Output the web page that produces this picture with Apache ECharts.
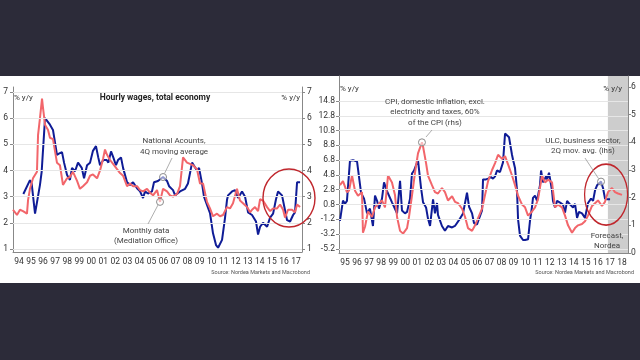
<!DOCTYPE html>
<html><head><meta charset="utf-8">
<script src="https://cdn.jsdelivr.net/npm/echarts@6/dist/echarts.min.js"></script>
<style>
html,body{margin:0;padding:0;background:#2c2b39;overflow:hidden;}
#bg{position:absolute;left:0;top:76px;width:640px;height:207px;background:#fff;}
#c{position:absolute;left:0;top:0;width:640px;height:360px;}
</style></head><body>
<div id="bg"></div><div id="c"></div>
<script>
// ---------- data ----------
const leftYearLabels = ['94','95','96','97','98','99','00','01','02','03','04','05','06','07','08','09','10','11','12','13','14','15','16','17'];
const rightYearLabels = ['95','96','97','98','99','00','01','02','03','04','05','06','07','08','09','10','11','12','13','14','15','16','17','18'];
const wageTicks = [1,2,3,4,5,6,7];
const ulcTicks = [-5.2,-3.2,-1.2,0.8,2.8,4.8,6.8,8.8,10.8,12.8,14.8];
const cpiTicks = [0,1,2,3,4,5,6];

// Hourly wages, National Accounts, 4Q moving average [year, % y/y]
const wagesNationalAccounts = [
[1994.86,3.1],[1995.41,3.63],[1995.55,3.5],[1995.83,2.35],[1996.24,3.45],[1996.38,3.95],[1996.66,6.0],[1996.80,5.95],[1997.07,5.75],[1997.32,5.55],[1997.65,4.6],[1997.85,4.65],[1998.07,4.7],[1998.24,4.3],[1998.49,3.83],[1998.73,3.64],[1998.90,4.1],[1999.15,3.97],[1999.40,4.3],[1999.71,4.1],[1999.90,3.7],[2000.15,4.2],[2000.40,4.3],[2000.64,4.75],[2000.89,4.93],[2001.08,4.5],[2001.23,4.2],[2001.50,4.4],[2001.78,4.4],[2001.92,4.3],[2002.14,4.73],[2002.33,4.5],[2002.55,4.2],[2002.72,4.4],[2002.97,4.5],[2003.14,4.1],[2003.47,3.55],[2003.72,3.45],[2003.97,3.55],[2004.30,3.32],[2004.55,3.2],[2004.80,2.95],[2004.96,3.2],[2005.21,3.12],[2005.54,3.2],[2005.71,3.55],[2006.04,3.6],[2006.46,3.75],[2006.79,3.6],[2006.96,3.4],[2007.29,3.25],[2007.46,3.05],[2007.87,3.2],[2008.29,3.3],[2008.53,3.5],[2008.87,4.3],[2008.95,4.28],[2009.28,4.0],[2009.45,4.1],[2009.70,3.5],[2009.86,3.0],[2010.36,2.37],[2010.61,1.6],[2010.86,1.15],[2011.03,1.05],[2011.36,1.35],[2011.61,2.2],[2011.77,2.87],[2011.86,3.05],[2012.19,3.2],[2012.44,3.25],[2012.69,2.95],[2013.02,3.2],[2013.27,3.0],[2013.44,2.6],[2013.52,2.4],[2013.85,2.3],[2014.18,2.05],[2014.35,1.55],[2014.52,1.85],[2014.76,2.0],[2015.10,1.85],[2015.35,2.2],[2015.60,2.35],[2015.84,2.9],[2016.01,3.2],[2016.34,3.05],[2016.76,2.1],[2017.01,2.05],[2017.26,2.3],[2017.42,2.4],[2017.59,3.55],[2017.84,3.55]
];
// Hourly wages, monthly data (Mediation Office)
const wagesMonthly = [
[1994.00,2.5],[1994.33,2.3],[1994.58,2.5],[1994.83,2.45],[1995.16,2.35],[1995.25,2.87],[1995.41,3.3],[1995.66,3.7],[1995.99,3.95],[1996.08,5.35],[1996.24,6.0],[1996.41,6.75],[1996.49,6.4],[1996.66,5.75],[1996.91,5.55],[1997.07,5.25],[1997.32,5.2],[1997.65,4.3],[1997.90,4.2],[1998.15,3.45],[1998.49,3.7],[1998.73,3.75],[1998.98,3.95],[1999.32,3.6],[1999.56,3.3],[1999.81,3.4],[2000.15,3.55],[2000.40,3.8],[2000.64,3.85],[2000.98,3.7],[2001.23,4.0],[2001.48,4.45],[2001.64,4.8],[2001.81,4.6],[2002.06,4.4],[2002.31,4.25],[2002.64,4.05],[2002.89,3.9],[2003.14,3.8],[2003.47,3.4],[2003.72,3.5],[2003.97,3.4],[2004.30,3.4],[2004.55,3.25],[2004.80,3.2],[2005.13,3.3],[2005.38,3.15],[2005.63,3.05],[2005.96,3.25],[2006.21,2.8],[2006.46,3.3],[2006.79,3.2],[2007.04,3.05],[2007.29,3.0],[2007.62,3.1],[2007.87,3.4],[2008.12,4.5],[2008.45,4.3],[2008.70,4.25],[2008.95,4.2],[2009.28,4.05],[2009.53,3.5],[2009.78,3.5],[2010.11,2.8],[2010.36,2.55],[2010.61,2.25],[2010.94,2.35],[2011.19,2.25],[2011.44,2.3],[2011.77,2.6],[2012.02,2.55],[2012.27,2.75],[2012.60,3.3],[2012.85,2.85],[2013.10,2.75],[2013.44,2.6],[2013.69,2.4],[2013.85,2.5],[2014.10,2.6],[2014.35,2.45],[2014.52,2.9],[2014.76,2.85],[2015.10,2.6],[2015.35,2.45],[2015.60,2.55],[2015.93,2.55],[2016.18,2.7],[2016.43,2.5],[2016.59,2.2],[2016.84,2.5],[2017.17,2.5],[2017.42,2.4],[2017.59,2.7],[2017.84,2.6]
];
// ULC, business sector, 2Q mov. avg. (lhs)
const ulcBusiness = [
[1995.08,-1.4],[1995.33,1.33],[1995.50,0.9],[1995.66,1.3],[1995.91,6.7],[1996.16,6.8],[1996.50,6.6],[1996.58,6.6],[1996.83,2.4],[1996.99,2.2],[1997.08,1.6],[1997.33,-0.4],[1997.57,0.25],[1997.82,-2.1],[1997.99,2.0],[1998.16,1.3],[1998.32,0.25],[1998.57,1.6],[1998.74,3.8],[1998.99,2.6],[1999.15,2.4],[1999.40,1.1],[1999.57,0.5],[1999.82,-0.4],[2000.07,4.0],[2000.23,0.0],[2000.48,-0.4],[2000.65,-0.2],[2000.90,1.6],[2001.06,5.0],[2001.23,5.4],[2001.56,6.8],[2001.81,3.1],[2001.98,1.1],[2002.23,0.4],[2002.39,-1.1],[2002.56,-2.1],[2002.81,1.5],[2002.97,-0.4],[2003.14,1.0],[2003.22,-0.6],[2003.55,-2.1],[2003.80,-2.75],[2004.05,-2.1],[2004.39,-2.3],[2004.63,-2.1],[2005.05,-1.1],[2005.30,-0.4],[2005.63,2.4],[2005.80,0.5],[2006.05,-0.4],[2006.21,-1.7],[2006.46,-1.9],[2006.63,-1.1],[2006.88,0.0],[2006.96,4.2],[2007.21,4.2],[2007.38,4.3],[2007.62,4.5],[2007.79,4.3],[2007.96,4.6],[2008.12,5.4],[2008.37,5.2],[2008.62,6.5],[2008.79,10.4],[2008.95,10.2],[2009.12,9.9],[2009.37,7.5],[2009.45,6.9],[2009.62,5.7],[2009.78,2.8],[2009.87,-1.2],[2010.03,-3.4],[2010.28,-4.0],[2010.45,-4.0],[2010.70,-3.9],[2010.86,-1.4],[2011.03,0.5],[2011.11,1.7],[2011.28,2.0],[2011.45,1.3],[2011.69,3.4],[2011.78,5.4],[2011.94,3.8],[2012.19,4.6],[2012.28,4.2],[2012.44,5.1],[2012.69,2.7],[2012.77,1.3],[2012.94,0.4],[2013.11,1.3],[2013.36,1.05],[2013.60,0.8],[2013.77,-0.3],[2013.94,1.3],[2014.19,0.8],[2014.44,0.4],[2014.60,0.9],[2014.77,-1.0],[2014.93,-0.2],[2015.18,-0.4],[2015.43,-1.0],[2015.68,1.0],[2015.93,1.6],[2016.10,1.3],[2016.26,2.7],[2016.43,3.4],[2016.76,3.9],[2016.93,3.0],[2017.09,1.6],[2017.26,1.5],[2017.51,1.5]
];
// CPI, domestic inflation excl. electricity and taxes (rhs)
const cpiDomestic = [
[1995.08,2.45],[1995.33,2.6],[1995.66,2.2],[1995.83,2.25],[1996.08,2.8],[1996.33,2.25],[1996.58,2.07],[1996.91,2.2],[1996.99,0.73],[1997.16,0.95],[1997.41,1.5],[1997.74,1.3],[1997.99,1.65],[1998.24,1.75],[1998.57,1.9],[1998.82,1.65],[1999.07,2.8],[1999.40,2.55],[1999.65,2.1],[1999.82,1.3],[2000.07,0.8],[2000.32,0.7],[2000.65,0.9],[2000.81,1.3],[2001.06,2.07],[2001.31,2.9],[2001.56,3.6],[2001.89,4.0],[2001.98,3.85],[2002.23,3.25],[2002.39,2.8],[2002.72,2.45],[2002.97,2.2],[2003.22,2.15],[2003.55,2.35],[2003.80,2.2],[2004.05,1.9],[2004.39,2.05],[2004.63,1.85],[2004.88,1.8],[2005.22,1.6],[2005.47,1.3],[2005.71,0.9],[2006.05,0.8],[2006.30,1.0],[2006.54,1.25],[2006.88,1.6],[2007.13,2.1],[2007.38,2.6],[2007.71,3.0],[2007.96,3.25],[2008.21,3.55],[2008.54,3.4],[2008.79,3.5],[2009.04,3.2],[2009.37,2.8],[2009.62,2.45],[2009.87,2.07],[2010.20,1.75],[2010.45,1.65],[2010.70,1.35],[2011.03,1.5],[2011.28,1.65],[2011.53,1.95],[2011.86,2.8],[2012.11,2.55],[2012.36,2.65],[2012.69,2.55],[2012.94,1.65],[2013.19,1.75],[2013.52,1.65],[2013.77,1.35],[2014.02,1.0],[2014.35,0.73],[2014.60,0.9],[2014.85,1.0],[2015.18,1.05],[2015.43,1.15],[2015.68,1.35],[2016.01,1.7],[2016.26,1.8],[2016.51,1.9],[2016.84,1.7],[2017.09,1.85],[2017.34,2.2],[2017.67,2.35],[2017.92,2.2],[2018.17,2.15],[2018.50,2.1]
];
const forecastStart = 2017.33;

// ---------- chart ----------
const FONT = 'Roboto';
const BLUE = '#0f1c96', RED = '#f2666b', CIRCLE = '#c0272d';
const TXT = '#333';
const chart = echarts.init(document.getElementById('c'), null, {renderer:'canvas'});

function catAxis(grid, labels){
  return {type:'category', gridIndex:grid, data:labels, boundaryGap:true,
    axisLine:{onZero:false, lineStyle:{color:'#888', width:1}},
    axisTick:{interval:0, length:3, lineStyle:{color:'#888'}},
    axisLabel:{interval:0, margin:5, fontSize:8.5, color:TXT, fontFamily:FONT},
    splitLine:{show:false}};
}
function valAxis(grid, pos, min, max, ticks, margin, fmt){
  return {type:'value', gridIndex:grid, position:pos, min:min, max:max,
    axisLine:{show:true, onZero:false, lineStyle:{color:'#888'}},
    axisTick:{show:true, length:3, customValues:ticks, lineStyle:{color:'#888'}},
    axisLabel:{customValues:ticks, margin:margin, fontSize:8.5, color:TXT, fontFamily:FONT, formatter:fmt},
    splitLine:{show:false}};
}
const gridLine = (vals) => ({silent:true, symbol:'none', label:{show:false},
  lineStyle:{color:'#e6e6e6', width:1, type:'solid'}, emphasis:{disabled:true},
  data: vals.map(v => ({yAxis:v}))});
const smallMarker = (coord) => ({symbol:'circle', symbolSize:7, silent:true, label:{show:false},
  itemStyle:{color:'rgba(255,255,255,0.55)', borderColor:'#8a8a8a', borderWidth:1},
  data:[{coord:coord}]});

const option = {
  animation:false,
  textStyle:{fontFamily:FONT},
  grid:[
    {left:13, right:338, top:87, bottom:108, outerBoundsMode:'none', containLabel:false},
    {left:339, right:12, top:76, bottom:107, outerBoundsMode:'none', containLabel:false}
  ],
  xAxis:[
    catAxis(0, leftYearLabels),
    {type:'value', gridIndex:0, min:1994, max:2018, show:false},
    catAxis(1, rightYearLabels),
    {type:'value', gridIndex:1, min:1995, max:2019, show:false}
  ],
  yAxis:[
    valAxis(0,'left',0.885,7.19,wageTicks,5,v=>String(v)),
    valAxis(0,'right',0.885,7.19,wageTicks,5,v=>String(v)),
    valAxis(1,'left',-5.754,18.18,ulcTicks,4,v=>v.toFixed(1)),
    valAxis(1,'right',0,6.397,cpiTicks,3,v=>String(v))
  ],
  series:[
    {type:'line', name:'grid-left', xAxisIndex:1, yAxisIndex:0, z:1, silent:true,
     data:[[1994,1]], showSymbol:false, lineStyle:{opacity:0},
     markLine:gridLine(wageTicks),
     markPoint:{symbol:'circle', symbolSize:[52,58], silent:true, label:{show:false},
       itemStyle:{color:'rgba(0,0,0,0)', borderColor:CIRCLE, borderWidth:1.5},
       data:[{coord:[2016.92,2.95]}]}},
    {type:'line', name:'grid-right', xAxisIndex:3, yAxisIndex:2, z:1, silent:true,
     data:[[1995,0]], showSymbol:false, lineStyle:{opacity:0},
     markLine:gridLine(ulcTicks),
     markArea:{silent:true, itemStyle:{color:'#cdcdcd'}, data:[[{xAxis:forecastStart},{xAxis:2019}]]}},
    {type:'line', name:'National Accounts', xAxisIndex:1, yAxisIndex:0, z:3,
     data:wagesNationalAccounts, showSymbol:false, lineStyle:{color:BLUE, width:2}, itemStyle:{color:BLUE},
     markPoint:smallMarker([2006.46,3.75])},
    {type:'line', name:'Monthly data', xAxisIndex:1, yAxisIndex:0, z:4,
     data:wagesMonthly, showSymbol:false, lineStyle:{color:RED, width:2}, itemStyle:{color:RED},
     markPoint:smallMarker([2006.21,2.8])},
    {type:'line', name:'ULC', xAxisIndex:3, yAxisIndex:2, z:3,
     data:ulcBusiness, showSymbol:false, lineStyle:{color:BLUE, width:2}, itemStyle:{color:BLUE},
     markPoint:smallMarker([2016.76,3.9])},
    {type:'line', name:'CPI', xAxisIndex:3, yAxisIndex:3, z:4,
     data:cpiDomestic, showSymbol:false, lineStyle:{color:RED, width:2}, itemStyle:{color:RED},
     markPoint:smallMarker([2001.89,4.0])},
    {type:'line', name:'circle-right', xAxisIndex:3, yAxisIndex:3, z:5, silent:true,
     data:[], showSymbol:false,
     markPoint:{symbol:'circle', symbolSize:[43,61], silent:true, label:{show:false},
       itemStyle:{color:'rgba(0,0,0,0)', borderColor:CIRCLE, borderWidth:1.5},
       data:[{coord:[2017.18,2.11]}]}}
  ],
  graphic:{elements:[
    {type:'text', z:100, x:155, y:98, style:{text:'Hourly wages, total economy', font:'bold 8.5px Roboto', fill:'#222', align:'center', verticalAlign:'middle'}},
    {type:'text', z:100, x:14, y:98, style:{text:'% y/y', font:'8px Roboto', fill:TXT, align:'left', verticalAlign:'middle'}},
    {type:'text', z:100, x:300, y:98, style:{text:'% y/y', font:'8px Roboto', fill:TXT, align:'right', verticalAlign:'middle'}},
    {type:'text', z:100, x:174, y:146, style:{text:'National Acounts,\n4Q moving average', font:'8px Roboto', fill:'#444', align:'center', verticalAlign:'middle', lineHeight:11}},
    {type:'line', z:100, shape:{x1:172, y1:158, x2:164.5, y2:173.5}, style:{stroke:'#999', lineWidth:0.8}},
    {type:'text', z:100, x:146, y:236, style:{text:'Monthly data\n(Mediation Office)', font:'8px Roboto', fill:'#444', align:'center', verticalAlign:'middle', lineHeight:10.5}},
    {type:'line', z:100, shape:{x1:158, y1:205, x2:148, y2:224}, style:{stroke:'#999', lineWidth:0.8}},
    {type:'text', z:100, x:310, y:273, style:{text:'Source: Nordea Markets and Macrobond', font:'5.5px Roboto', fill:'#555', align:'right', verticalAlign:'middle'}},

    {type:'text', z:100, x:340, y:89, style:{text:'% y/y', font:'8px Roboto', fill:TXT, align:'left', verticalAlign:'middle'}},
    {type:'text', z:100, x:622, y:89, style:{text:'% y/y', font:'8px Roboto', fill:TXT, align:'right', verticalAlign:'middle'}},
    {type:'text', z:100, x:435, y:112, style:{text:'CPI, domestic inflation, excl.\nelectricity and taxes, 60%\nof the CPI (rhs)', font:'8px Roboto', fill:'#444', align:'center', verticalAlign:'middle', lineHeight:10.5}},
    {type:'line', z:100, shape:{x1:432, y1:130, x2:426, y2:137}, style:{stroke:'#999', lineWidth:0.8}},
    {type:'text', z:100, x:583, y:146, style:{text:'ULC, business sector,\n2Q mov. avg. (lhs)', font:'8px Roboto', fill:'#444', align:'center', verticalAlign:'middle', lineHeight:10.5}},
    {type:'line', z:100, shape:{x1:585, y1:158, x2:598.5, y2:178.5}, style:{stroke:'#999', lineWidth:0.8}},
    {type:'text', z:100, x:607, y:241, style:{text:'Forecast,\nNordea', font:'8px Roboto', fill:'#444', align:'center', verticalAlign:'middle', lineHeight:10.5}},
    {type:'text', z:100, x:634, y:273, style:{text:'Source: Nordea Markets and Macrobond', font:'5.5px Roboto', fill:'#555', align:'right', verticalAlign:'middle'}}
  ]}
};
chart.setOption(option);
</script>
</body></html>
